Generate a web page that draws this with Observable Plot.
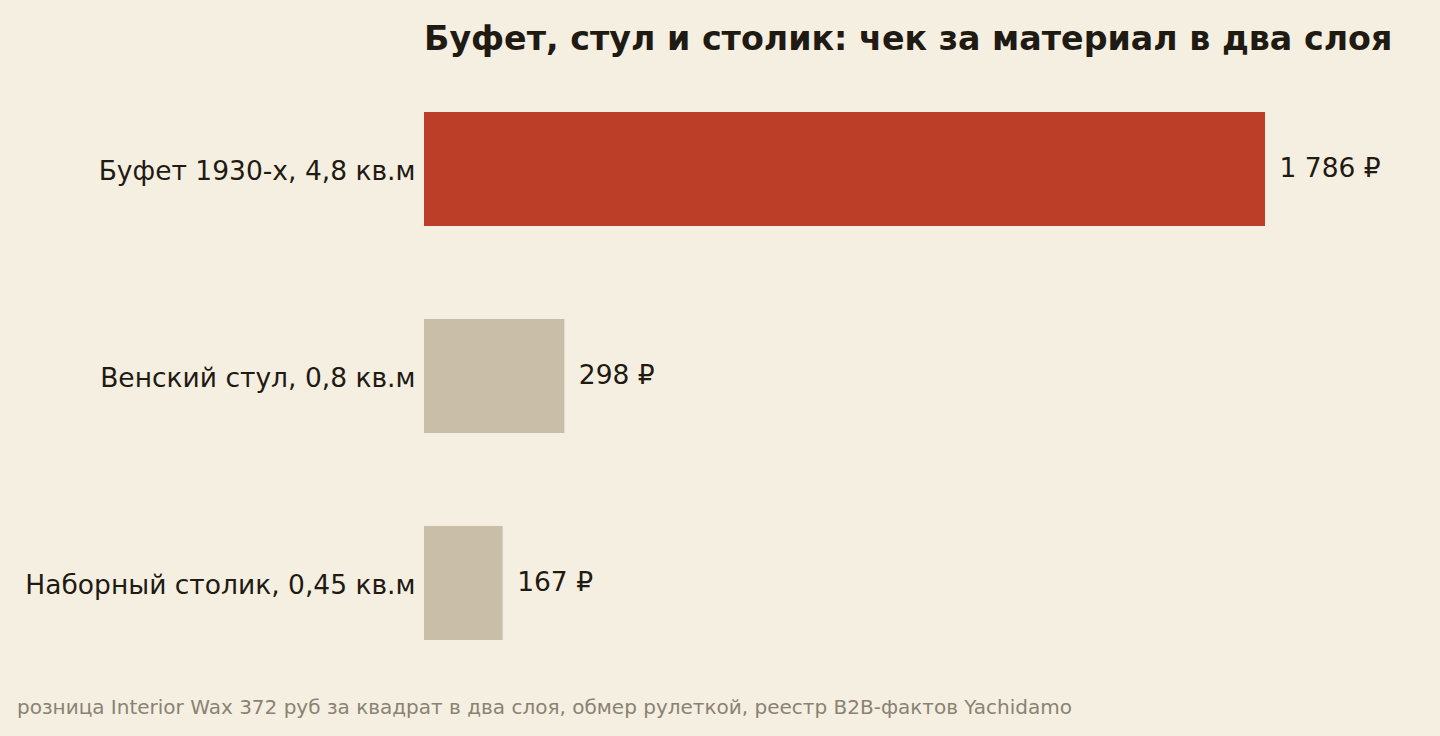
<!DOCTYPE html>
<html>
<head>
<meta charset="utf-8">
<script src="https://cdn.jsdelivr.net/npm/d3@7"></script>
<script src="https://cdn.jsdelivr.net/npm/@observablehq/plot@0.6"></script>
<style>
  html, body { margin: 0; padding: 0; background: #f5efe2; }
  body { width: 1440px; height: 736px; position: relative; overflow: hidden; font-family: "DejaVu Sans", sans-serif; }
  #title { position: absolute; left: 424px; top: 19px; font-size: 33.3px; font-weight: bold; color: #1f1a12; line-height: 40px; white-space: nowrap; }
  #caption { position: absolute; left: 17px; top: 695px; font-size: 20px; color: #8a8272; line-height: 24px; white-space: nowrap; }
  #chart { position: absolute; left: 0; top: 0; }
</style>
</head>
<body>
<div id="chart"></div>
<div id="title">Буфет, стул и столик: чек за материал в два слоя</div>
<div id="caption">розница Interior Wax 372 руб за квадрат в два слоя, обмер рулеткой, реестр B2B-фактов Yachidamo</div>
<script>
const items = ["Буфет 1930-х, 4,8 кв.м", "Венский стул, 0,8 кв.м", "Наборный столик, 0,45 кв.м"];
const costs = [1786, 298, 167];
const highlight = [true, false, false];

const data = items.map((name, i) => ({name, cost: costs[i], hl: highlight[i]}));
const ru = d3.formatLocale({decimal: ",", thousands: "\u00a0", grouping: [3], currency: ["", " ₽"]});
const fmt = ru.format(",");

const chart = Plot.plot({
  width: 1440,
  height: 736,
  marginLeft: 424,
  marginRight: 175,
  marginTop: 69.5,
  marginBottom: 54.5,
  style: {background: "transparent", fontFamily: "DejaVu Sans, sans-serif", color: "#1f1a12"},
  x: {domain: [0, 1786], axis: null},
  y: {domain: items, paddingInner: 0.45, paddingOuter: 0.2, label: null, tickSize: 0, tickPadding: 9},
  marks: [
    Plot.barX(data, {x: "cost", y: "name", fill: d => d.hl ? "#bc3d28" : "#c9bfa8"}),
    Plot.text(data, {x: "cost", y: "name", text: d => fmt(d.cost) + " ₽", dx: 14, dy: -1, textAnchor: "start", fontSize: 26.5, fill: "#1f1a12"}),
    Plot.axisY({tickSize: 0, tickPadding: 9, fontSize: 26.5, label: null, dy: 2})
  ]
});
document.getElementById("chart").appendChild(chart);
</script>
</body>
</html>
